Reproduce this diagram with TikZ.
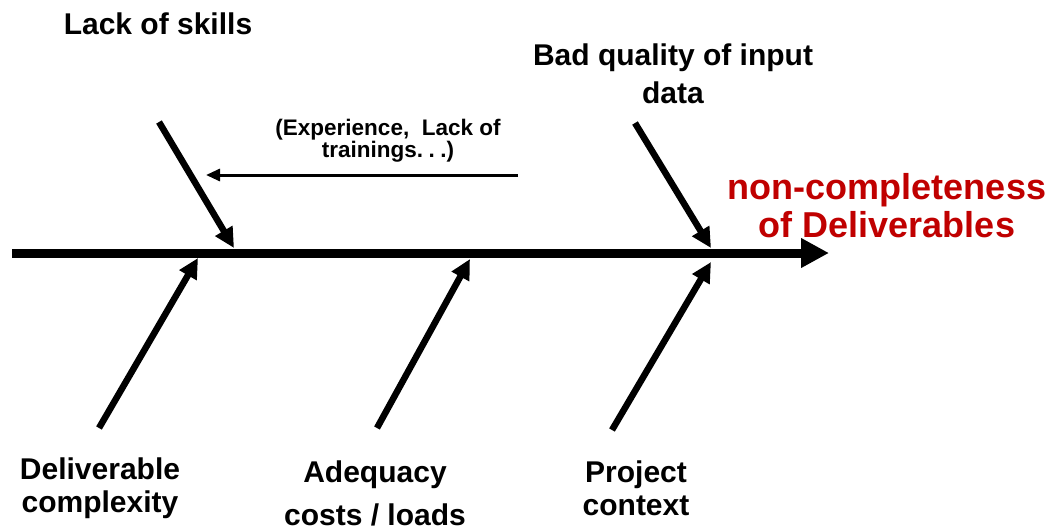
\documentclass[tikz,border=0pt]{standalone}
\usepackage{fontspec}
\setmainfont{Liberation Sans}
\usetikzlibrary{arrows.meta}
\definecolor{darkred}{HTML}{C00000}
\tikzset{
  lbl/.style={font=\bfseries\fontsize{30}{38}\selectfont, align=center, inner sep=0pt},
  smalllbl/.style={font=\bfseries\fontsize{22.5}{22}\selectfont, align=center, inner sep=0pt},
  effect/.style={font=\bfseries\fontsize{36}{38}\selectfont, align=center, inner sep=0pt, text=darkred},
  spine/.style={line width=9pt, -{Triangle[length=28pt,width=28pt]}},
  bone/.style={line width=6.5pt, -{Triangle[length=20pt,width=19pt]}},
  thinarrow/.style={line width=3pt, -{Triangle[length=14pt,width=12pt]}}
}
\begin{document}
\begin{tikzpicture}[x=1pt,y=-1pt]
\useasboundingbox[fill=white] (0,0) rectangle (1054,531);
% spine
\coordinate (s0) at (12,253);
\coordinate (s1) at (829,253);
\draw[spine] (s0) -- (s1);
% bones
\coordinate (a0) at (159,122); \coordinate (a1) at (234,248);
\coordinate (b0) at (635,123); \coordinate (b1) at (711,248);
\coordinate (c0) at (99,428);  \coordinate (c1) at (198,258);
\coordinate (d0) at (377,428); \coordinate (d1) at (470,259);
\coordinate (e0) at (612,430); \coordinate (e1) at (711,262);
\draw[bone] (a0) -- (a1);
\draw[bone] (b0) -- (b1);
\draw[bone] (c0) -- (c1);
\draw[bone] (d0) -- (d1);
\draw[bone] (e0) -- (e1);
% secondary arrow
\coordinate (f0) at (518,175); \coordinate (f1) at (206,175);
\draw[thinarrow] (f0) -- (f1);
% labels
\node[lbl] (skills) at (158,24) {Lack of skills};
\node[lbl] (input) at (673,74) {Bad quality of input\\data};
\node[smalllbl] (exp) at (388,141) {(Experience,\ \ Lack of\\trainings.\kern5.5pt.\kern5.5pt.)};
\node[effect] (effect) at (887,206) {non-completeness\\of Deliverables};
\node[lbl, font=\bfseries\fontsize{30}{33}\selectfont] (deliv) at (100,488) {Deliverable\\complexity};
\node[lbl, font=\bfseries\fontsize{30}{43}\selectfont] (adeq) at (375,493) {Adequacy\\costs / loads};
\node[lbl, font=\bfseries\fontsize{30}{33}\selectfont] (proj) at (636,488) {Project\\context};
\end{tikzpicture}
\end{document}
